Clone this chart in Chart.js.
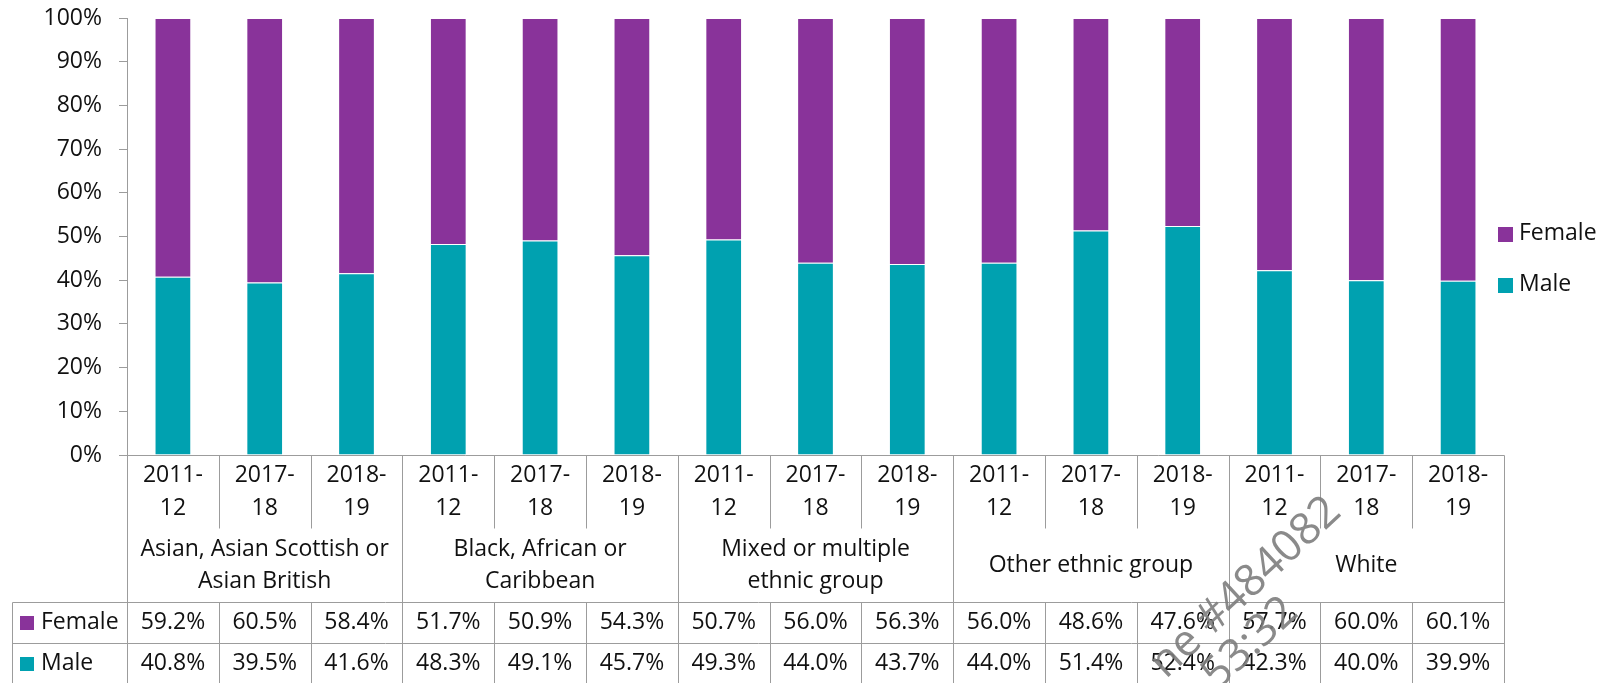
<!DOCTYPE html>
<html>
<head>
<meta charset="utf-8">
<script src="https://cdn.jsdelivr.net/npm/chart.js@4/dist/chart.umd.min.js"></script>
<style>
  html, body { margin: 0; padding: 0; background: #ffffff; }
  #wrap { width: 1602px; height: 683px; position: relative; }
</style>
</head>
<body>
<div id="wrap"><canvas id="chart" width="1602" height="683"></canvas></div>
<script>
// Ethnic groups (multi-line labels) and the survey years shown under each group
const groups = [
  ['Asian, Asian Scottish or', 'Asian British'],
  ['Black, African or', 'Caribbean'],
  ['Mixed or multiple', 'ethnic group'],
  ['Other ethnic group'],
  ['White']
];
const years = [['2011-', '12'], ['2017-', '18'], ['2018-', '19']];

// Share of each sex, in percent, one value per group/year column
const femaleShare = [59.2, 60.5, 58.4, 51.7, 50.9, 54.3, 50.7, 56.0, 56.3, 56.0, 48.6, 47.6, 57.7, 60.0, 60.1];
const maleShare   = [40.8, 39.5, 41.6, 48.3, 49.1, 45.7, 49.3, 44.0, 43.7, 44.0, 51.4, 52.4, 42.3, 40.0, 39.9];

// Value axis ticks (percent)
const yTicks = [0, 10, 20, 30, 40, 50, 60, 70, 80, 90, 100];

const FEMALE = '#89339a';
const MALE = '#00a1b0';
const RULE = '#9c9c9c';
const INK = '#111111';
const FONT = '"Open Sans", "DejaVu Sans", sans-serif';
const FS = 23;

// One column per (group, year) pair
const columns = [];
groups.forEach((g, gi) => years.forEach((y, yi) => columns.push({ gi, yi, label: y.join('') })));
const labels = columns.map(c => c.label);

// Draws the two-level category axis and the data table beneath the plot
const categoryTable = {
  id: 'categoryTable',
  afterDraw(chart) {
    const { ctx, chartArea: a, scales: { x } } = chart;
    const n = labels.length;
    const slot = (a.right - a.left) / n;
    const L = a.left, R = a.left + slot * n, top = a.bottom;
    const yearBottom = top + 73;
    const groupBottom = top + 147;
    const rowMid = groupBottom + 41;
    const tableBottom = groupBottom + 82;
    const tableLeft = 12;
    const px = v => Math.round(v) + 0.5;

    ctx.save();
    ctx.strokeStyle = RULE;
    ctx.lineWidth = 1;
    const line = (x1, y1, x2, y2) => {
      ctx.beginPath();
      ctx.moveTo(px(x1), px(y1));
      ctx.lineTo(px(x2), px(y2));
      ctx.stroke();
    };

    // horizontal rules
    line(L - 8, top, R, top);
    line(tableLeft, groupBottom, R, groupBottom);
    line(tableLeft, rowMid, R, rowMid);
    line(tableLeft, tableBottom, R, tableBottom);
    line(tableLeft, groupBottom, tableLeft, tableBottom);

    // vertical rules between columns
    for (let i = 0; i <= n; i++) {
      const xb = L + i * slot;
      if (i % years.length === 0) {
        line(xb, top, xb, tableBottom);
      } else {
        line(xb, top, xb, yearBottom);
        line(xb, groupBottom, xb, tableBottom);
      }
    }

    ctx.fillStyle = INK;
    ctx.font = FS + 'px ' + FONT;
    ctx.textAlign = 'center';
    ctx.textBaseline = 'middle';

    // year labels
    columns.forEach((c, i) => {
      const cx = x.getPixelForValue(i);
      const yl = years[c.yi];
      ctx.fillText(yl[0], cx, top + 20);
      ctx.fillText(yl[1], cx, top + 53);
    });

    // group labels
    const gMid = (yearBottom + groupBottom) / 2;
    groups.forEach((g, gi) => {
      const x0 = x.getPixelForValue(gi * years.length);
      const x1 = x.getPixelForValue(gi * years.length + years.length - 1);
      const cx = (x0 + x1) / 2;
      const lh = 32;
      g.forEach((t, k) => {
        ctx.fillText(t, cx, gMid + (k - (g.length - 1) / 2) * lh);
      });
    });

    // table values
    const rows = [
      { name: 'Female', color: FEMALE, values: femaleShare, y: (groupBottom + rowMid) / 2 },
      { name: 'Male', color: MALE, values: maleShare, y: (rowMid + tableBottom) / 2 }
    ];
    rows.forEach(r => {
      r.values.forEach((v, i) => {
        ctx.fillText(v.toFixed(1) + '%', x.getPixelForValue(i), r.y);
      });
      ctx.fillStyle = r.color;
      ctx.fillRect(20, Math.round(r.y) - 7, 14, 14);
      ctx.fillStyle = INK;
      ctx.textAlign = 'left';
      ctx.fillText(r.name, 41, r.y);
      ctx.textAlign = 'center';
    });
    ctx.restore();
  }
};

// Legend at the right, Female listed above Male
const sideLegend = {
  id: 'sideLegend',
  afterDraw(chart) {
    const { ctx } = chart;
    const items = [
      { name: 'Female', color: FEMALE, y: 233.5 },
      { name: 'Male', color: MALE, y: 284.5 }
    ];
    ctx.save();
    ctx.font = FS + 'px ' + FONT;
    ctx.textBaseline = 'middle';
    ctx.textAlign = 'left';
    items.forEach(it => {
      ctx.fillStyle = it.color;
      ctx.fillRect(1498, Math.round(it.y) - 7, 15, 15);
      ctx.fillStyle = INK;
      ctx.fillText(it.name, 1519, it.y);
    });
    ctx.restore();
  }
};

// Grey reference stamp across the lower right
const stamp = {
  id: 'stamp',
  afterDraw(chart) {
    const { ctx } = chart;
    ctx.save();
    ctx.fillStyle = 'rgba(125,125,125,0.9)';
    ctx.font = '44px ' + FONT;
    ctx.textAlign = 'right';
    ctx.textBaseline = 'alphabetic';
    ctx.translate(1343, 514);
    ctx.rotate(-43 * Math.PI / 180);
    ctx.fillText('ne #484082', 0, 0);
    ctx.fillText('53:32', -100, 44);
    ctx.restore();
  }
};

new Chart(document.getElementById('chart'), {
  type: 'bar',
  data: {
    labels,
    datasets: [
      { label: 'Male', data: maleShare, backgroundColor: MALE, borderColor: 'rgba(255,255,255,0.5)', borderWidth: 1 },
      { label: 'Female', data: femaleShare, backgroundColor: FEMALE, borderColor: 'rgba(255,255,255,0.5)', borderWidth: 1 }
    ]
  },
  options: {
    responsive: false,
    animation: false,
    devicePixelRatio: 1,
    layout: { padding: { left: 0, top: 18, right: 98, bottom: 228 } },
    datasets: { bar: { categoryPercentage: 1.0, barPercentage: 0.40 } },
    plugins: { legend: { display: false }, tooltip: { enabled: false } },
    scales: {
      x: { stacked: true, display: false },
      y: {
        stacked: true,
        min: 0,
        max: 100,
        afterFit(scale) {
          scale.width = 127;
          scale.paddingTop = 0;
          scale.paddingBottom = 0;
        },
        afterBuildTicks(scale) { scale.ticks = yTicks.map(v => ({ value: v })); },
        ticks: {
          padding: 17,
          color: INK,
          font: { family: FONT, size: FS },
          callback: v => v + '%'
        },
        grid: { drawOnChartArea: false, drawTicks: true, tickLength: 8, color: RULE },
        border: { color: RULE, width: 1 }
      }
    }
  },
  plugins: [categoryTable, sideLegend, stamp]
});
</script>
</body>
</html>
